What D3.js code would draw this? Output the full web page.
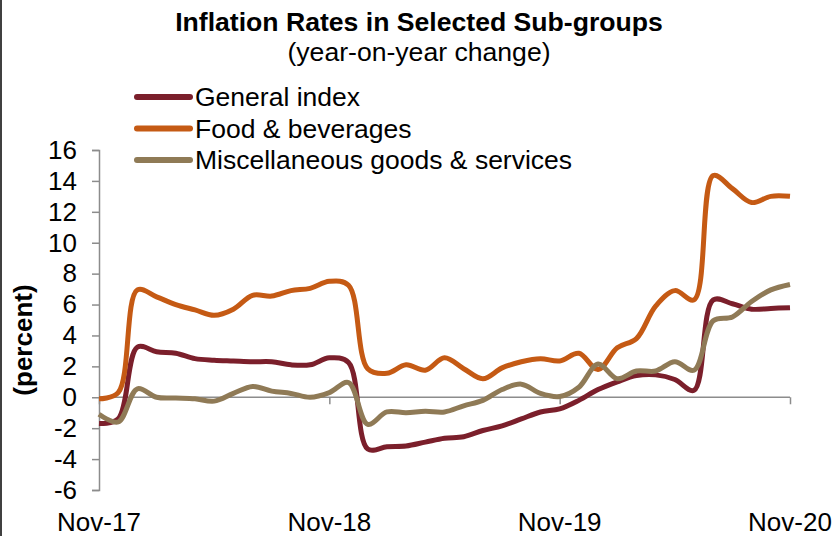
<!DOCTYPE html>
<html><head><meta charset="utf-8">
<script src="https://cdn.jsdelivr.net/npm/d3@7"></script>
<style>html,body{margin:0;padding:0;background:#fff;}svg{display:block;font-family:Arial,"Liberation Sans",sans-serif;}</style>
</head><body>
<svg id="c" width="840" height="536"></svg>
<script>
const months = ["Nov-17","Dec-17","Jan-18","Feb-18","Mar-18","Apr-18","May-18","Jun-18","Jul-18","Aug-18","Sep-18","Oct-18",
"Nov-18","Dec-18","Jan-19","Feb-19","Mar-19","Apr-19","May-19","Jun-19","Jul-19","Aug-19","Sep-19","Oct-19",
"Nov-19","Dec-19","Jan-20","Feb-20","Mar-20","Apr-20","May-20","Jun-20","Jul-20","Aug-20","Sep-20","Oct-20","Nov-20"];
const generalIndex = [-1.7,-1.4,3.25,2.95,2.85,2.5,2.4,2.35,2.3,2.3,2.1,2.1,2.55,2.25,-3.35,-3.2,-3.15,-2.9,-2.65,-2.55,-2.15,-1.85,-1.4,-0.95,-0.75,-0.2,0.5,1.0,1.4,1.45,1.15,0.45,6.3,6.05,5.7,5.75,5.8];
const foodBeverages = [-0.1,0.3,6.95,6.5,6.0,5.65,5.3,5.7,6.6,6.55,6.9,7.05,7.5,7.25,1.85,1.55,2.1,1.75,2.55,1.85,1.2,1.9,2.3,2.5,2.35,2.85,1.8,3.2,3.8,5.9,6.9,6.3,14.35,13.5,12.6,13.0,13.0];
const miscGoods = [-1.1,-1.6,0.55,0.0,-0.05,-0.1,-0.25,0.25,0.7,0.4,0.25,0.0,0.3,0.95,-1.75,-0.95,-1.0,-0.9,-0.95,-0.55,-0.2,0.5,0.85,0.25,0.05,0.65,2.15,1.2,1.7,1.7,2.3,1.75,4.95,5.2,6.2,6.95,7.3];
const yTicks = [-6,-4,-2,0,2,4,6,8,10,12,14,16];
const xTickLabels = ["Nov-17","Nov-18","Nov-19","Nov-20"];
const seriesNames = ["General index","Food & beverages","Miscellaneous goods & services"];
const seriesColors = ["#7b1f2b","#c55a14","#8f7a56"];

const series = [generalIndex, foodBeverages, miscGoods];
const svg = d3.select("#c");
const FS = 26;

// frame line on the left
svg.append("line").attr("x1",1).attr("x2",1).attr("y1",0).attr("y2",536).attr("stroke","#000").attr("stroke-width",1.5);

const x = d3.scalePoint().domain(months).range([99,790]);
const y = d3.scaleLinear().domain([-6,16]).range([490,150]);

// y axis
const yAxis = svg.append("g").attr("transform","translate(99,0)")
  .call(d3.axisLeft(y).tickValues(yTicks).tickSize(7).tickPadding(15).tickFormat(d=>String(d)));
yAxis.select(".domain").attr("stroke","#8c8c8c").attr("stroke-width",1.5);
yAxis.selectAll(".tick line").attr("stroke","#8c8c8c").attr("stroke-width",1.5);
yAxis.selectAll("text").attr("font-size",FS).attr("fill","#000").attr("font-family","Arial, 'Liberation Sans', sans-serif");

// x axis at y=0
const xAxis = svg.append("g").attr("transform",`translate(0,${y(0)})`)
  .call(d3.axisBottom(x).tickValues(xTickLabels).tickSize(7).tickFormat(()=>""));
xAxis.select(".domain").attr("stroke","#8c8c8c").attr("stroke-width",1.5).attr("d",`M${x(months[0])},0H${x(months[months.length-1])}`);
xAxis.selectAll(".tick line").attr("stroke","#8c8c8c").attr("stroke-width",1.5);

// x labels at bottom
svg.append("g").selectAll("text").data(xTickLabels).join("text")
  .attr("x",d=>x(d)).attr("y",531).attr("text-anchor","middle")
  .attr("font-size",FS).attr("fill","#000").text(d=>d);

// lines
const line = d3.line().x((d,i)=>x(months[i])).y(d=>y(d)).curve(d3.curveCatmullRom.alpha(0.5));
series.forEach((s,k)=>{
  svg.append("path").datum(s).attr("d",line).attr("fill","none")
    .attr("stroke",seriesColors[k]).attr("stroke-width",5).attr("stroke-linejoin","round").attr("stroke-linecap","butt");
});

// y label
svg.append("text").attr("transform","translate(32,340) rotate(-90)").attr("text-anchor","middle")
  .attr("font-size",FS).attr("font-weight","bold").text("(percent)");

// title
svg.append("text").attr("x",419).attr("y",31).attr("text-anchor","middle").attr("font-size",26.6).attr("font-weight","bold")
  .text("Inflation Rates in Selected Sub-groups");
svg.append("text").attr("x",419).attr("y",61).attr("text-anchor","middle").attr("font-size",26.6)
  .text("(year-on-year change)");

// legend
const lg = svg.append("g");
seriesNames.forEach((n,k)=>{
  const ly = 97 + k*31.5;
  lg.append("line").attr("x1",137).attr("x2",190).attr("y1",ly).attr("y2",ly)
    .attr("stroke",seriesColors[k]).attr("stroke-width",6).attr("stroke-linecap","round");
  lg.append("text").attr("x",195).attr("y",ly+9).attr("font-size",FS+0.5).attr("fill","#000").text(n);
});
</script>
</body></html>
